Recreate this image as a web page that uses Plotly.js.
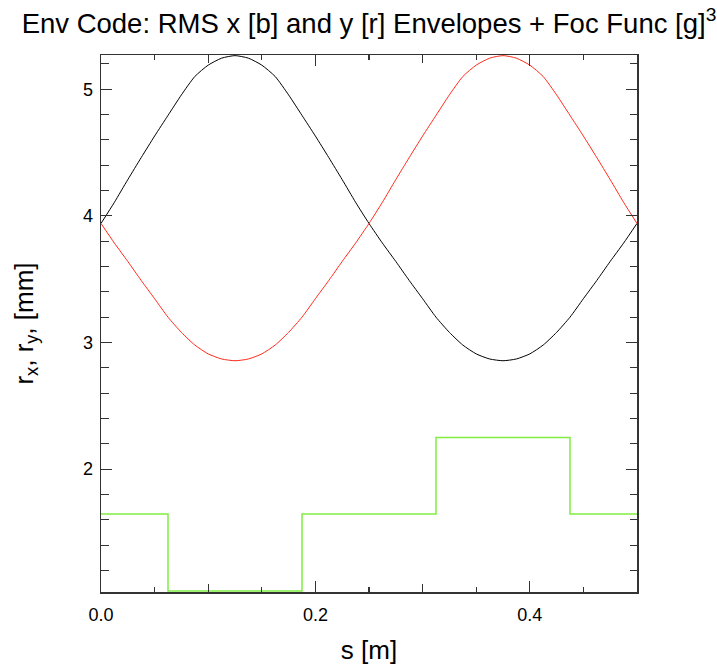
<!DOCTYPE html>
<html>
<head>
<meta charset="utf-8">
<script src="https://cdn.plot.ly/plotly-3.0.1.min.js"></script>
<style>
html,body{margin:0;padding:0;background:#fff;}
#chart{width:717px;height:666px;}
</style>
</head>
<body>
<div id="chart"></div>
<script>
// s positions [m]
var s = [0, 0.0125, 0.025, 0.0375, 0.05, 0.0625, 0.075, 0.0875, 0.1, 0.1125,
  0.125, 0.1375, 0.15, 0.1625, 0.175, 0.1875, 0.2, 0.2125, 0.225, 0.2375,
  0.25, 0.2625, 0.275, 0.2875, 0.3, 0.3125, 0.325, 0.3375, 0.35, 0.3625,
  0.375, 0.3875, 0.4, 0.4125, 0.425, 0.4375, 0.45, 0.4625, 0.475, 0.4875, 0.5];
// RMS x envelope [mm] (black)
var rx = [3.94, 4.107, 4.286, 4.46, 4.63, 4.793, 4.955, 5.10, 5.19, 5.245,
  5.265, 5.245, 5.19, 5.10, 4.955, 4.793, 4.63, 4.46, 4.286, 4.107,
  3.94, 3.785, 3.64, 3.49, 3.346, 3.2, 3.08, 2.98, 2.91, 2.87,
  2.856, 2.87, 2.91, 2.98, 3.08, 3.2, 3.346, 3.49, 3.64, 3.785, 3.94];
// RMS y envelope [mm] (red)
var ry = [3.94, 3.785, 3.64, 3.49, 3.346, 3.2, 3.08, 2.98, 2.91, 2.87,
  2.856, 2.87, 2.91, 2.98, 3.08, 3.2, 3.346, 3.49, 3.64, 3.785,
  3.94, 4.107, 4.286, 4.46, 4.63, 4.793, 4.955, 5.10, 5.19, 5.245,
  5.265, 5.245, 5.19, 5.10, 4.955, 4.793, 4.63, 4.46, 4.286, 4.107, 3.94];
// focusing function (green step)
var focS = [0, 0.0625, 0.0625, 0.1875, 0.1875, 0.3125, 0.3125, 0.4375, 0.4375, 0.5];
var focV = [1.645, 1.645, 1.038, 1.038, 1.645, 1.645, 2.25, 2.25, 1.645, 1.645];
// tick labels
var xTickVals = [0, 0.2, 0.4];
var xTickText = ["0.0", "0.2", "0.4"];
var yTickVals = [2, 3, 4, 5];
var yTickText = ["2", "3", "4", "5"];

var FONT = "Liberation Sans, Arial, sans-serif";
var AX = "#333333";

var traces = [
  {x: s, y: rx, type: "scatter", mode: "lines", line: {color: "#000000", width: 1, shape: "spline", smoothing: 0.6}, hoverinfo: "skip"},
  {x: s, y: ry, type: "scatter", mode: "lines", line: {color: "#ff2a1a", width: 1, shape: "spline", smoothing: 0.6}, hoverinfo: "skip"},
  {x: focS, y: focV, type: "scatter", mode: "lines", xaxis: "x2", line: {color: "#80ee40", width: 1.5}, hoverinfo: "skip"}
];

var layout = {
  width: 717, height: 666,
  margin: {l: 101, r: 80, t: 55, b: 74, pad: 0},
  paper_bgcolor: "#ffffff", plot_bgcolor: "#ffffff",
  showlegend: false,
  font: {family: FONT, color: "#000"},
  title: {
    text: "Env Code: RMS x [b] and y [r] Envelopes + Foc Func [g]<sup>3</sup>",
    font: {family: FONT, size: 27.5, color: "#000"},
    x: 0.5, xref: "paper", xanchor: "center",
    y: 1 - 23/666, yref: "container", yanchor: "middle"
  },
  xaxis: {
    range: [0, 0.5], showgrid: false, zeroline: false,
    showline: true, linecolor: AX, linewidth: 1.5, mirror: "ticks",
    ticks: "inside", ticklen: 11, tickwidth: 1.2, tickcolor: AX,
    tickmode: "array", tickvals: xTickVals, ticktext: xTickText,
    tickfont: {family: FONT, size: 18, color: "#000"},
    ticklabelstandoff: 6,
    title: {text: "s [m]", font: {family: FONT, size: 26, color: "#000"}, standoff: 16},
    automargin: false
  },
  xaxis2: {
    overlaying: "x", anchor: "y", side: "bottom",
    range: [0, 0.5], showgrid: false, zeroline: false,
    showline: false, mirror: "ticks",
    ticks: "inside", ticklen: 8, tickwidth: 1.2, tickcolor: AX,
    dtick: 0.1, tick0: 0, showticklabels: false,
    minor: {dtick: 0.05, tick0: 0, ticks: "inside", ticklen: 5, tickwidth: 1.2, tickcolor: AX, showgrid: false},
    automargin: false
  },
  yaxis: {
    range: [1.03, 5.27], showgrid: false, zeroline: false,
    showline: true, linecolor: AX, linewidth: 1.5, mirror: "ticks",
    ticks: "inside", ticklen: 11, tickwidth: 1.2, tickcolor: AX,
    tickmode: "array", tickvals: yTickVals, ticktext: yTickText,
    tickfont: {family: FONT, size: 18, color: "#000"},
    ticklabelstandoff: 3,
    minor: {dtick: 0.2, tick0: 0, ticks: "inside", ticklen: 7.5, tickwidth: 1.2, tickcolor: AX, showgrid: false},
    title: {text: "r<sub>x</sub>, r<sub>y</sub>, [mm]", font: {family: FONT, size: 26, color: "#000"}, standoff: 42},
    automargin: false
  }
};

Plotly.newPlot("chart", traces, layout, {staticPlot: true, displayModeBar: false});
</script>
</body>
</html>
